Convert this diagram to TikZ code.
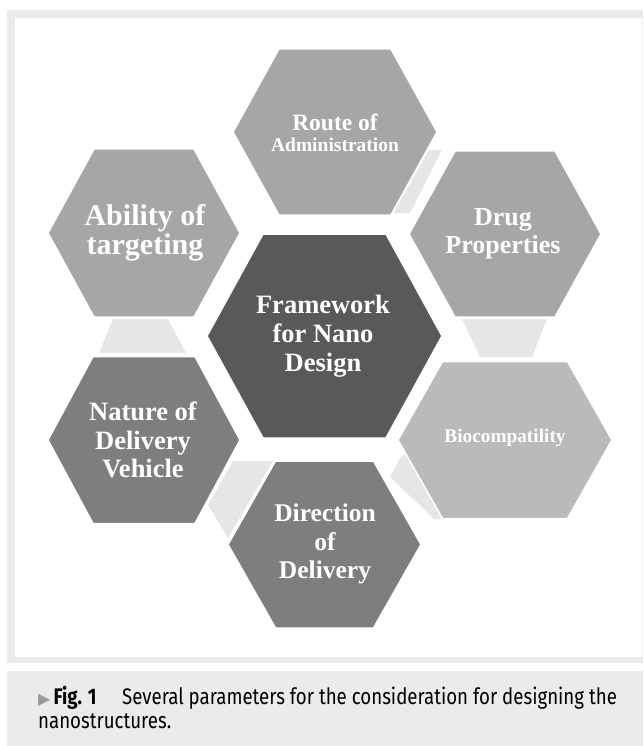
\documentclass[tikz,border=0pt]{standalone}
\usepackage{fontspec}
\newfontfamily\hexfont{Liberation Serif}
\newfontfamily\capfont[FakeStretch=0.83]{Fira Sans}
\newfontfamily\symfont{DejaVu Sans}
\definecolor{framegray}{HTML}{EBEBEB}
\definecolor{stripgray}{HTML}{E6E6E6}
\definecolor{lightcell}{HTML}{A6A6A6}
\definecolor{palecell}{HTML}{BABABA}
\definecolor{midcell}{HTML}{7E7E7E}
\definecolor{darkcell}{HTML}{595959}
\definecolor{tipgray}{HTML}{9A9A9A}
% hexagon cell: centre, half width, half top edge, half height, fill
\newcommand{\hexcell}[5]{%
  \filldraw[#5, draw=white, line width=1.5pt, shift={(#1)}]
    (-#2,0) -- (-#3,-#4) -- (#3,-#4) -- (#2,0) -- (#3,#4) -- (-#3,#4) -- cycle;}
\begin{document}
\begin{tikzpicture}[
    x=1pt, y=-1pt,
    hexlabel/.style={text=white, align=center, inner sep=0pt, font=\hexfont\bfseries},
    strip/.style={fill=stripgray},
    captext/.style={anchor=base west, inner sep=0pt, font=\capfont\fontsize{22.5}{24}\selectfont}
]
\useasboundingbox (0,0) rectangle (643,746);
\fill[framegray] (7,10) rectangle (643,663);
\fill[white] (15,18) rectangle (642,657);
\fill[framegray] (7,671) rectangle (643,746);

% light strips between neighbouring cells
\fill[strip] (429,150) -- (442,150) -- (410,213) -- (393,213) -- cycle;
\fill[strip] (462,319) -- (547,319) -- (532,357) -- (480,357) -- cycle;
\fill[strip] (113,319) -- (168,319) -- (186,353) -- (99,353) -- cycle;
\fill[strip] (233,461) -- (273,461) -- (228,538) -- (208,505) -- cycle;
\fill[strip] (402,455) -- (408,455) -- (444,519) -- (434,519) -- (390,477) -- cycle;

\coordinate (route-c) at (335,132);
\coordinate (ability-c) at (144,233);
\coordinate (drug-c) at (505,234);
\coordinate (frame-c) at (324.5,336);
\coordinate (nature-c) at (144,440);
\coordinate (bio-c) at (505,440);
\coordinate (direction-c) at (324.5,544.5);

\hexcell{route-c}{102}{56}{83}{lightcell}
\hexcell{ability-c}{96}{50}{84}{lightcell}
\hexcell{drug-c}{96}{50}{83}{lightcell}
\hexcell{frame-c}{117.5}{61.5}{102}{darkcell}
\hexcell{nature-c}{96}{51}{83.5}{midcell}
\hexcell{bio-c}{107}{62.5}{78.5}{palecell}
\hexcell{direction-c}{96.5}{49}{83.5}{midcell}

\node[hexlabel, font=\hexfont\bfseries\fontsize{19.5}{21}\selectfont] (route) at (335,133)
    {{\fontsize{23.5}{21}\selectfont Route of}\\Administration};
\node[hexlabel, font=\hexfont\bfseries\fontsize{30}{29}\selectfont] (ability) at (145,233)
    {Ability of\\targeting};
\node[hexlabel, font=\hexfont\bfseries\fontsize{26}{28}\selectfont] (drug) at (503,234)
    {Drug\\Properties};
\node[hexlabel, font=\hexfont\bfseries\fontsize{26.5}{29}\selectfont] (frame) at (323,336)
    {Framework\\for Nano\\Design};
\node[hexlabel, font=\hexfont\bfseries\fontsize{26.5}{28.5}\selectfont] (nature) at (143,440)
    {Nature of\\Delivery\\Vehicle};
\node[hexlabel, font=\hexfont\bfseries\fontsize{19.3}{21}\selectfont] (bio) at (505,438)
    {Biocompatility};
\node[hexlabel, font=\hexfont\bfseries\fontsize{25.5}{28.5}\selectfont] (direction) at (325,544)
    {Direction\\of\\Delivery};

% caption
\node[captext] (figtag) at (38,704)
    {{\symfont\color{tipgray}\fontsize{16}{24}\selectfont ▶}\kern3pt\textbf{Fig. 1}};
\node[captext] (caption) at (122,704)
    {Several parameters for the consideration for designing the};
\node[captext] (caption2) at (38,728) {nanostructures.};
\end{tikzpicture}
\end{document}
